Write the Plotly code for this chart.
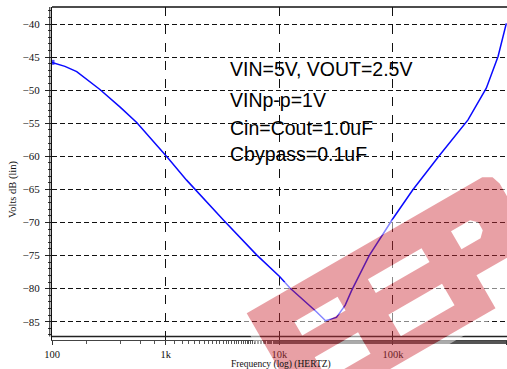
import numpy as np
import plotly.graph_objects as go

# Ripple rejection sweep: frequency (Hz) and output ripple level (dB)
freq_hz = [100, 130, 165, 264, 400, 556, 1052, 1528, 3205, 6310, 10100, 12400,
           21200, 25500, 31800, 38000, 43200, 61700, 100000, 149000,
           258000, 457000, 662000, 840000, 993000]
ripple_db = [-45.8, -46.4, -47.2, -49.9, -52.6, -54.9, -60.3, -63.6, -69.6, -74.9,
             -78.2, -79.9, -83.5, -84.85, -84.35, -82.5, -80.3, -75.0, -69.4,
             -65.1, -59.8, -54.5, -49.7, -44.9, -39.9]

y_ticks = [-40, -45, -50, -55, -60, -65, -70, -75, -80, -85]
x_ticks = [100, 1000, 10000, 100000, 1000000]
x_tick_text = ["100", "1k", "10k", "100k", "1M"]

conditions = ["VIN=5V, VOUT=2.5V", "VINp-p=1V", "Cin=Cout=1.0uF", "Cbypass=0.1uF"]

W, H = 507, 369
PX_L, PX_R, PX_T, PX_B = 52, 507, 7, 340
X_DEC = [2, 6.003]
SERIF = "Liberation Serif, Times New Roman, serif"


def paper(px, py):
    return (px - PX_L) / (PX_R - PX_L), (PX_B - py) / (PX_B - PX_T)


fig = go.Figure()
fig.add_trace(go.Scatter(
    x=freq_hz, y=ripple_db, mode="lines+markers",
    line=dict(color="#0a0aff", width=1.5),
    marker=dict(symbol="square", size=[5] + [0] * (len(freq_hz) - 1),
                color="#0a0aff", line=dict(width=0)),
    hoverinfo="skip", showlegend=False,
))

shapes = []
_, y_frame = paper(PX_L, 336.5)

# plot frame: top edge, bottom edge above the axis, and the second left rule
xl2, _ = paper(49.8, 0)
shapes.append(dict(type="line", xref="paper", yref="paper", x0=0, x1=1, y0=1, y1=1,
                   line=dict(color="#111", width=1.3)))
shapes.append(dict(type="line", xref="paper", yref="paper", x0=0, x1=1,
                   y0=y_frame, y1=y_frame, line=dict(color="#222", width=1.3)))
shapes.append(dict(type="line", xref="paper", yref="paper", x0=xl2, x1=xl2,
                   y0=y_frame, y1=1, line=dict(color="#111", width=1)))

# EEPW logo stamp, laid out in its own rotated frame (u along the letters, v across)
LOGO_O = (246.7, 313.3)
ang = np.deg2rad(30)


def logo_xy(u, v):
    px = LOGO_O[0] + u * np.cos(ang) + v * np.sin(ang)
    py = LOGO_O[1] - u * np.sin(ang) + v * np.cos(ang)
    return paper(px, py)


def subpath(pts):
    xy = [logo_xy(u, v) for u, v in pts]
    return "M" + " L".join(f"{x:.5f},{y:.5f}" for x, y in xy) + " Z"


def rect(u0, v0, u1, v1):
    return [(u0, v0), (u1, v0), (u1, v1), (u0, v1)]


letters = [(0, 0), (272, 0), (281, 5), (284, 14), (284, 82), (218, 82), (218, 120), (0, 120)]
holes = [rect(37, 31, 87, 47), rect(37, 72, 87, 97), rect(122, 31, 184, 47),
         rect(122, 72, 184, 97),
         [(218, 31), (240, 31), (246, 37), (246, 46), (240, 52), (218, 52)]]
halo = rect(-8, -8, 292, 128)

shapes.append(dict(type="path", xref="paper", yref="paper", layer="above",
                   path=" ".join([subpath(halo), subpath(letters)] + [subpath(h) for h in holes]),
                   fillrule="evenodd", fillcolor="white", opacity=0.5, line=dict(width=0)))
shapes.append(dict(type="path", xref="paper", yref="paper", layer="above",
                   path=" ".join([subpath(letters)] + [subpath(h) for h in holes]),
                   fillrule="evenodd", fillcolor="rgb(204,44,55)", opacity=0.45,
                   line=dict(width=0)))

annotations = []
for i, txt in enumerate(conditions):
    _, yy = paper(0, [68.5, 99.5, 127.5, 153.5][i])
    xx, _ = paper(228, 0)
    annotations.append(dict(text=txt, xref="paper", yref="paper", x=xx, y=yy,
                            xanchor="left", yanchor="middle", showarrow=False,
                            font=dict(family="Liberation Sans, Arial, sans-serif",
                                      size=19.5, color="#000")))
xt, yt = paper(281, 364)
annotations.append(dict(text="Frequency (log) (HERTZ)", xref="paper", yref="paper",
                        x=xt, y=yt, xanchor="center", yanchor="middle", showarrow=False,
                        font=dict(family=SERIF, size=9.5, color="#111")))
xv, yv = paper(13, 190)
annotations.append(dict(text="Volts dB (lin)", xref="paper", yref="paper",
                        x=xv, y=yv, xanchor="center", yanchor="middle", showarrow=False,
                        textangle=-90, font=dict(family=SERIF, size=10.5, color="#111")))

y_per_px = 45 / (321.7 - 24)
y_lo = -85 - (PX_B - 321.7) * y_per_px
y_hi = -40 + (24 - PX_T) * y_per_px

fig.update_layout(
    width=W, height=H,
    margin=dict(l=PX_L, r=W - PX_R, t=PX_T, b=H - PX_B),
    paper_bgcolor="white", plot_bgcolor="white",
    shapes=shapes, annotations=annotations,
    xaxis=dict(
        type="log", range=X_DEC, tickvals=x_ticks, ticktext=x_tick_text,
        showline=True, linecolor="#444", linewidth=1.2,
        ticks="outside", ticklen=4, tickcolor="#333", tickwidth=1,
        tickfont=dict(family=SERIF, size=10.5, color="#111"), ticklabelstandoff=0,
        showgrid=True, gridcolor="#111111", gridwidth=1, griddash="dash",
        minor=dict(ticks="outside", ticklen=2.5, tickcolor="#555"),
        zeroline=False, automargin=False,
    ),
    yaxis=dict(
        range=[y_lo, y_hi], tickvals=y_ticks, ticks="outside", ticklen=6,
        tickcolor="#222", tickwidth=1,
        showline=True, linecolor="#111", linewidth=1.2,
        tickfont=dict(family=SERIF, size=11, color="#111"), ticklabelstandoff=3,
        showgrid=True, gridcolor="#111111", gridwidth=1, griddash="5px,3px",
        minor=dict(dtick=1, tick0=-40, ticks="outside", ticklen=3, tickcolor="#333"),
        zeroline=False, automargin=False,
    ),
)

fig.write_html("out.html")
